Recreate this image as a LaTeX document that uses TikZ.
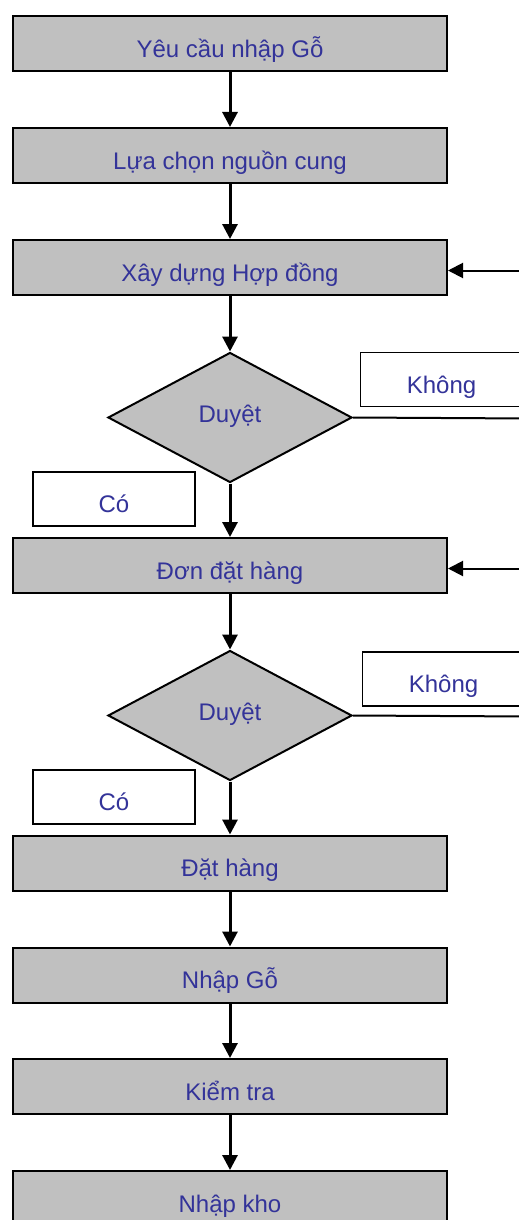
\documentclass[tikz,border=0pt]{standalone}
\usepackage{fontspec}
\setmainfont{Liberation Sans}
\usetikzlibrary{arrows.meta,shapes.geometric}
\definecolor{boxgray}{RGB}{192,192,192}
\definecolor{textblue}{RGB}{51,51,153}
\begin{document}
\begin{tikzpicture}[x=1pt, y=-1pt,
    every node/.style={font=\fontsize{24}{28}\selectfont, text=textblue},
    stepbox/.style={rectangle, draw, line width=2pt, fill=boxgray, minimum width=434pt, minimum height=55pt, text height=27.5pt, text depth=0pt},
    choice/.style={diamond, draw, line width=2pt, fill=boxgray, minimum width=244pt, minimum height=130pt, text height=12pt, text depth=2pt},
    answer/.style={rectangle, draw, line width=1.6pt, fill=white, minimum width=162pt, minimum height=54pt, text height=27.5pt, text depth=0pt},
    flow/.style={line width=3pt, -{Triangle[length=15pt, width=15pt]}},
    plain/.style={line width=2pt}]
        \useasboundingbox (0,0) rectangle (519,1220);

        \node[stepbox] (req) at (230,43.5) {Yêu cầu nhập Gỗ};
        \node[stepbox] (src) at (230,155.5) {Lựa chọn nguồn cung};
        \node[stepbox] (contract) at (230,267.5) {Xây dựng Hợp đồng};
        \node[choice] (chk1) at (230,417.5) {Duyệt};
        \node[answer] (yes1) at (114,499) {Có};
        \node[answer] (no1) at (441.5,379.5) {Không};
        \node[stepbox] (po) at (230,565.5) {Đơn đặt hàng};
        \node[choice] (chk2) at (230,715.5) {Duyệt};
        \node[answer] (yes2) at (114,797) {Có};
        \node[answer] (no2) at (443.5,679) {Không};
        \node[stepbox] (order) at (230,863) {Đặt hàng};
        \node[stepbox] (import) at (230,975) {Nhập Gỗ};
        \node[stepbox] (check) at (230,1086.5) {Kiểm tra};
        \node[stepbox] (store) at (230,1198.5) {Nhập kho};

        \coordinate (back1) at (530,270.5);
        \coordinate (back2) at (530,568.5);
        \coordinate (out1) at (530,418.5);
        \coordinate (out2) at (530,716.5);

        \draw[flow] (req) -- (src);
        \draw[flow] (src) -- (contract);
        \draw[flow] (contract) -- (chk1);
        \draw[flow] (chk1) -- (po);
        \draw[flow] (po) -- (chk2);
        \draw[flow] (chk2) -- (order);
        \draw[flow] (order) -- (import);
        \draw[flow] (import) -- (check);
        \draw[flow] (check) -- (store);

        \draw[plain] (chk1.east) -- (out1);
        \draw[plain] (chk2.east) -- (out2);
        \draw[flow, line width=2pt] (back1) -- (back1 -| contract.east);
        \draw[flow, line width=2pt] (back2) -- (back2 -| po.east);
    \end{tikzpicture}
\end{document}
